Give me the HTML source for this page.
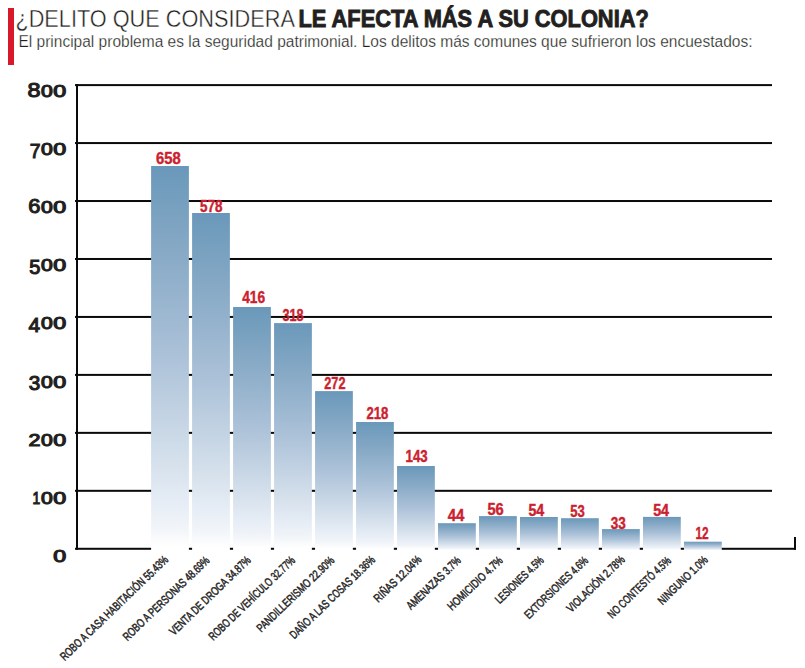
<!DOCTYPE html><html lang="es"><head><meta charset="utf-8"><title>¿Delito que considera le afecta más a su colonia?</title>
<style>html,body{margin:0;padding:0;background:#fff;}svg{display:block;}text{font-family:"Liberation Sans",Arial,sans-serif;}</style></head><body>
<svg width="805" height="668" viewBox="0 0 805 668">
<defs><linearGradient id="g" x1="0" y1="0" x2="0" y2="1"><stop offset="0" stop-color="#6a98ba"/><stop offset="0.23" stop-color="#88aac6"/><stop offset="0.49" stop-color="#abc1d8"/><stop offset="0.776" stop-color="#d6e1ec"/><stop offset="0.87" stop-color="#e5ecf5"/><stop offset="0.945" stop-color="#f2f5f9"/><stop offset="0.99" stop-color="#ffffff"/></linearGradient></defs>
<rect x="0" y="0" width="805" height="668" fill="#fff"/>
<rect x="8" y="8" width="6" height="57" fill="#d7192a"/>
<text x="15.4" y="26.8" font-size="23.3" fill="#231f20" stroke="#fff" stroke-width="0.4" textLength="279.5" lengthAdjust="spacingAndGlyphs">¿DELITO QUE CONSIDERA</text>
<text x="298.4" y="26.8" font-size="23.3" font-weight="bold" fill="#231f20" stroke="#231f20" stroke-width="0.9" textLength="350.4" lengthAdjust="spacingAndGlyphs">LE AFECTA MÁS A SU COLONIA?</text>
<text x="18.4" y="46.5" font-size="15.6" fill="#231f20" stroke="#fff" stroke-width="0.25" textLength="734.1" lengthAdjust="spacingAndGlyphs">El principal problema es la seguridad patrimonial. Los delitos más comunes que sufrieron los encuestados:</text>
<rect x="75" y="84.10" width="697" height="2" fill="#0a0a0a"/>
<rect x="75" y="142.06" width="697" height="2" fill="#0a0a0a"/>
<rect x="75" y="200.02" width="697" height="2" fill="#0a0a0a"/>
<rect x="75" y="257.98" width="697" height="2" fill="#0a0a0a"/>
<rect x="75" y="315.94" width="697" height="2" fill="#0a0a0a"/>
<rect x="75" y="373.90" width="697" height="2" fill="#0a0a0a"/>
<rect x="75" y="431.86" width="697" height="2" fill="#0a0a0a"/>
<rect x="75" y="489.82" width="697" height="2" fill="#0a0a0a"/>
<rect x="75" y="547.78" width="721" height="2" fill="#0a0a0a"/>
<rect x="794" y="537" width="2" height="12.78" fill="#0a0a0a"/>
<rect x="76" y="84.10" width="2" height="465.68" fill="#0a0a0a"/>
<rect x="151.10" y="166.0" width="37.8" height="384.28" fill="url(#g)"/>
<rect x="192.09" y="213.0" width="37.8" height="337.28" fill="url(#g)"/>
<rect x="233.08" y="307.0" width="37.8" height="243.28" fill="url(#g)"/>
<rect x="274.07" y="323.1" width="37.8" height="227.18" fill="url(#g)"/>
<rect x="315.06" y="391.1" width="37.8" height="159.18" fill="url(#g)"/>
<rect x="356.05" y="422.0" width="37.8" height="128.28" fill="url(#g)"/>
<rect x="397.04" y="466.0" width="37.8" height="84.28" fill="url(#g)"/>
<rect x="438.03" y="523.2" width="37.8" height="27.08" fill="url(#g)"/>
<rect x="479.02" y="516.1" width="37.8" height="34.18" fill="url(#g)"/>
<rect x="520.01" y="517.0" width="37.8" height="33.28" fill="url(#g)"/>
<rect x="561.00" y="518.2" width="37.8" height="32.08" fill="url(#g)"/>
<rect x="601.99" y="529.1" width="37.8" height="21.18" fill="url(#g)"/>
<rect x="642.98" y="516.9" width="37.8" height="33.38" fill="url(#g)"/>
<rect x="683.97" y="541.7" width="37.8" height="8.58" fill="url(#g)"/>
<text x="156.03" y="163.50" font-size="16.8" font-weight="bold" fill="#cc1f2f" stroke="#cc1f2f" stroke-width="0.45" textLength="24.67" lengthAdjust="spacingAndGlyphs">658</text>
<text x="200.12" y="211.50" font-size="16.8" font-weight="bold" fill="#cc1f2f" stroke="#cc1f2f" stroke-width="0.45" textLength="22.38" lengthAdjust="spacingAndGlyphs">578</text>
<text x="242.15" y="303.25" font-size="16.8" font-weight="bold" fill="#cc1f2f" stroke="#cc1f2f" stroke-width="0.45" textLength="22.98" lengthAdjust="spacingAndGlyphs">416</text>
<text x="282.42" y="321.25" font-size="16.8" font-weight="bold" fill="#cc1f2f" stroke="#cc1f2f" stroke-width="0.45" textLength="21.08" lengthAdjust="spacingAndGlyphs">318</text>
<text x="324.22" y="389.25" font-size="16.8" font-weight="bold" fill="#cc1f2f" stroke="#cc1f2f" stroke-width="0.45" textLength="21.28" lengthAdjust="spacingAndGlyphs">272</text>
<text x="366.46" y="419.25" font-size="16.8" font-weight="bold" fill="#cc1f2f" stroke="#cc1f2f" stroke-width="0.45" textLength="21.89" lengthAdjust="spacingAndGlyphs">218</text>
<text x="405.56" y="462.25" font-size="16.8" font-weight="bold" fill="#cc1f2f" stroke="#cc1f2f" stroke-width="0.45" textLength="22.11" lengthAdjust="spacingAndGlyphs">143</text>
<text x="447.69" y="521.25" font-size="16.8" font-weight="bold" fill="#cc1f2f" stroke="#cc1f2f" stroke-width="0.45" textLength="16.63" lengthAdjust="spacingAndGlyphs">44</text>
<text x="487.46" y="514.50" font-size="16.8" font-weight="bold" fill="#cc1f2f" stroke="#cc1f2f" stroke-width="0.45" textLength="16.32" lengthAdjust="spacingAndGlyphs">56</text>
<text x="528.42" y="516.25" font-size="16.8" font-weight="bold" fill="#cc1f2f" stroke="#cc1f2f" stroke-width="0.45" textLength="15.85" lengthAdjust="spacingAndGlyphs">54</text>
<text x="570.23" y="516.50" font-size="16.8" font-weight="bold" fill="#cc1f2f" stroke="#cc1f2f" stroke-width="0.45" textLength="14.51" lengthAdjust="spacingAndGlyphs">53</text>
<text x="610.68" y="528.50" font-size="16.8" font-weight="bold" fill="#cc1f2f" stroke="#cc1f2f" stroke-width="0.45" textLength="14.99" lengthAdjust="spacingAndGlyphs">33</text>
<text x="653.16" y="516.21" font-size="16.8" font-weight="bold" fill="#cc1f2f" stroke="#cc1f2f" stroke-width="0.45" textLength="15.90" lengthAdjust="spacingAndGlyphs">54</text>
<text x="695.45" y="539.25" font-size="16.8" font-weight="bold" fill="#cc1f2f" stroke="#cc1f2f" stroke-width="0.45" textLength="13.21" lengthAdjust="spacingAndGlyphs">12</text>
<text font-weight="normal" fill="#231f20" stroke="#231f20" stroke-width="1.1"><tspan x="27.43" y="97.05" font-size="20.20" textLength="13.04" lengthAdjust="spacingAndGlyphs">8</tspan><tspan x="40.92" y="97.09" font-size="16.24" textLength="11.75" lengthAdjust="spacingAndGlyphs">0</tspan><tspan x="53.34" y="97.09" font-size="16.24" textLength="12.91" lengthAdjust="spacingAndGlyphs">0</tspan></text>
<text font-weight="normal" fill="#231f20" stroke="#231f20" stroke-width="1.1"><tspan x="29.66" y="157.85" font-size="20.35" textLength="10.77" lengthAdjust="spacingAndGlyphs">7</tspan><tspan x="40.92" y="155.19" font-size="16.24" textLength="11.75" lengthAdjust="spacingAndGlyphs">0</tspan><tspan x="53.34" y="155.19" font-size="16.24" textLength="12.91" lengthAdjust="spacingAndGlyphs">0</tspan></text>
<text font-weight="normal" fill="#231f20" stroke="#231f20" stroke-width="1.1"><tspan x="28.24" y="213.25" font-size="20.20" textLength="12.17" lengthAdjust="spacingAndGlyphs">6</tspan><tspan x="40.92" y="213.29" font-size="16.24" textLength="11.75" lengthAdjust="spacingAndGlyphs">0</tspan><tspan x="53.34" y="213.29" font-size="16.24" textLength="12.91" lengthAdjust="spacingAndGlyphs">0</tspan></text>
<text font-weight="normal" fill="#231f20" stroke="#231f20" stroke-width="1.1"><tspan x="29.15" y="273.85" font-size="20.06" textLength="11.14" lengthAdjust="spacingAndGlyphs">5</tspan><tspan x="40.92" y="271.39" font-size="16.24" textLength="11.75" lengthAdjust="spacingAndGlyphs">0</tspan><tspan x="53.34" y="271.39" font-size="16.24" textLength="12.91" lengthAdjust="spacingAndGlyphs">0</tspan></text>
<text font-weight="normal" fill="#231f20" stroke="#231f20" stroke-width="1.1"><tspan x="28.47" y="332.15" font-size="20.35" textLength="11.59" lengthAdjust="spacingAndGlyphs">4</tspan><tspan x="40.92" y="329.49" font-size="16.24" textLength="11.75" lengthAdjust="spacingAndGlyphs">0</tspan><tspan x="53.34" y="329.49" font-size="16.24" textLength="12.91" lengthAdjust="spacingAndGlyphs">0</tspan></text>
<text font-weight="normal" fill="#231f20" stroke="#231f20" stroke-width="1.1"><tspan x="28.86" y="390.06" font-size="19.77" textLength="11.50" lengthAdjust="spacingAndGlyphs">3</tspan><tspan x="40.92" y="387.59" font-size="16.24" textLength="11.75" lengthAdjust="spacingAndGlyphs">0</tspan><tspan x="53.34" y="387.59" font-size="16.24" textLength="12.91" lengthAdjust="spacingAndGlyphs">0</tspan></text>
<text font-weight="normal" fill="#231f20" stroke="#231f20" stroke-width="1.1"><tspan x="28.57" y="445.85" font-size="16.47" textLength="11.96" lengthAdjust="spacingAndGlyphs">2</tspan><tspan x="40.92" y="445.69" font-size="16.24" textLength="11.75" lengthAdjust="spacingAndGlyphs">0</tspan><tspan x="53.34" y="445.69" font-size="16.24" textLength="12.91" lengthAdjust="spacingAndGlyphs">0</tspan></text>
<text font-weight="normal" fill="#231f20" stroke="#231f20" stroke-width="1.1"><tspan x="32.39" y="503.95" font-size="16.72" textLength="7.74" lengthAdjust="spacingAndGlyphs">1</tspan><tspan x="40.92" y="503.79" font-size="16.24" textLength="11.75" lengthAdjust="spacingAndGlyphs">0</tspan><tspan x="53.34" y="503.79" font-size="16.24" textLength="12.91" lengthAdjust="spacingAndGlyphs">0</tspan></text>
<text font-weight="normal" fill="#231f20" stroke="#231f20" stroke-width="1.1"><tspan x="53.34" y="561.89" font-size="16.24" textLength="12.91" lengthAdjust="spacingAndGlyphs">0</tspan></text>
<text x="169.10" y="560.54" font-size="11.8" font-weight="normal" fill="#262626" stroke="#262626" stroke-width="0.5" text-anchor="end" textLength="145.04" lengthAdjust="spacingAndGlyphs" transform="rotate(-44.0 169.10 560.54)">ROBO A CASA HABITACIÓN 55.43%</text>
<text x="210.40" y="561.33" font-size="11.8" font-weight="normal" fill="#262626" stroke="#262626" stroke-width="0.5" text-anchor="end" textLength="115.23" lengthAdjust="spacingAndGlyphs" transform="rotate(-44.0 210.40 561.33)">ROBO A PERSONAS 48.69%</text>
<text x="251.60" y="561.13" font-size="11.8" font-weight="normal" fill="#262626" stroke="#262626" stroke-width="0.5" text-anchor="end" textLength="107.92" lengthAdjust="spacingAndGlyphs" transform="rotate(-44.0 251.60 561.13)">VENTA DE DROGA 34.87%</text>
<text x="295.91" y="561.22" font-size="11.8" font-weight="normal" fill="#262626" stroke="#262626" stroke-width="0.5" text-anchor="end" textLength="114.77" lengthAdjust="spacingAndGlyphs" transform="rotate(-44.0 295.91 561.22)">ROBO DE VEHÍCULO 32.77%</text>
<text x="335.03" y="561.41" font-size="11.8" font-weight="normal" fill="#262626" stroke="#262626" stroke-width="0.5" text-anchor="end" textLength="102.67" lengthAdjust="spacingAndGlyphs" transform="rotate(-44.0 335.03 561.41)">PANDILLERISMO 22.90%</text>
<text x="375.95" y="560.69" font-size="11.8" font-weight="normal" fill="#262626" stroke="#262626" stroke-width="0.5" text-anchor="end" textLength="113.58" lengthAdjust="spacingAndGlyphs" transform="rotate(-44.0 375.95 560.69)">DAÑO A LAS COSAS 18.36%</text>
<text x="422.33" y="560.51" font-size="11.8" font-weight="normal" fill="#262626" stroke="#262626" stroke-width="0.5" text-anchor="end" textLength="61.11" lengthAdjust="spacingAndGlyphs" transform="rotate(-44.0 422.33 560.51)">RIÑAS 12.04%</text>
<text x="461.72" y="561.42" font-size="11.8" font-weight="normal" fill="#262626" stroke="#262626" stroke-width="0.5" text-anchor="end" textLength="70.38" lengthAdjust="spacingAndGlyphs" transform="rotate(-44.0 461.72 561.42)">AMENAZAS 3.7%</text>
<text x="503.50" y="561.34" font-size="11.8" font-weight="normal" fill="#262626" stroke="#262626" stroke-width="0.5" text-anchor="end" textLength="71.41" lengthAdjust="spacingAndGlyphs" transform="rotate(-44.0 503.50 561.34)">HOMICIDIO 4.7%</text>
<text x="544.56" y="561.07" font-size="11.8" font-weight="normal" fill="#262626" stroke="#262626" stroke-width="0.5" text-anchor="end" textLength="62.32" lengthAdjust="spacingAndGlyphs" transform="rotate(-44.0 544.56 561.07)">LESIONES 4.5%</text>
<text x="588.95" y="561.48" font-size="11.8" font-weight="normal" fill="#262626" stroke="#262626" stroke-width="0.5" text-anchor="end" textLength="83.36" lengthAdjust="spacingAndGlyphs" transform="rotate(-44.0 588.95 561.48)">EXTORSIONES 4.6%</text>
<text x="625.55" y="560.59" font-size="11.8" font-weight="normal" fill="#262626" stroke="#262626" stroke-width="0.5" text-anchor="end" textLength="75.57" lengthAdjust="spacingAndGlyphs" transform="rotate(-44.0 625.55 560.59)">VIOLACIÓN 2.78%</text>
<text x="671.80" y="561.53" font-size="11.8" font-weight="normal" fill="#262626" stroke="#262626" stroke-width="0.5" text-anchor="end" textLength="82.71" lengthAdjust="spacingAndGlyphs" transform="rotate(-44.0 671.80 561.53)">NO CONTESTÓ 4.5%</text>
<text x="708.54" y="560.90" font-size="11.8" font-weight="normal" fill="#262626" stroke="#262626" stroke-width="0.5" text-anchor="end" textLength="64.05" lengthAdjust="spacingAndGlyphs" transform="rotate(-44.0 708.54 560.90)">NINGUNO 1.0%</text>
</svg></body></html>
